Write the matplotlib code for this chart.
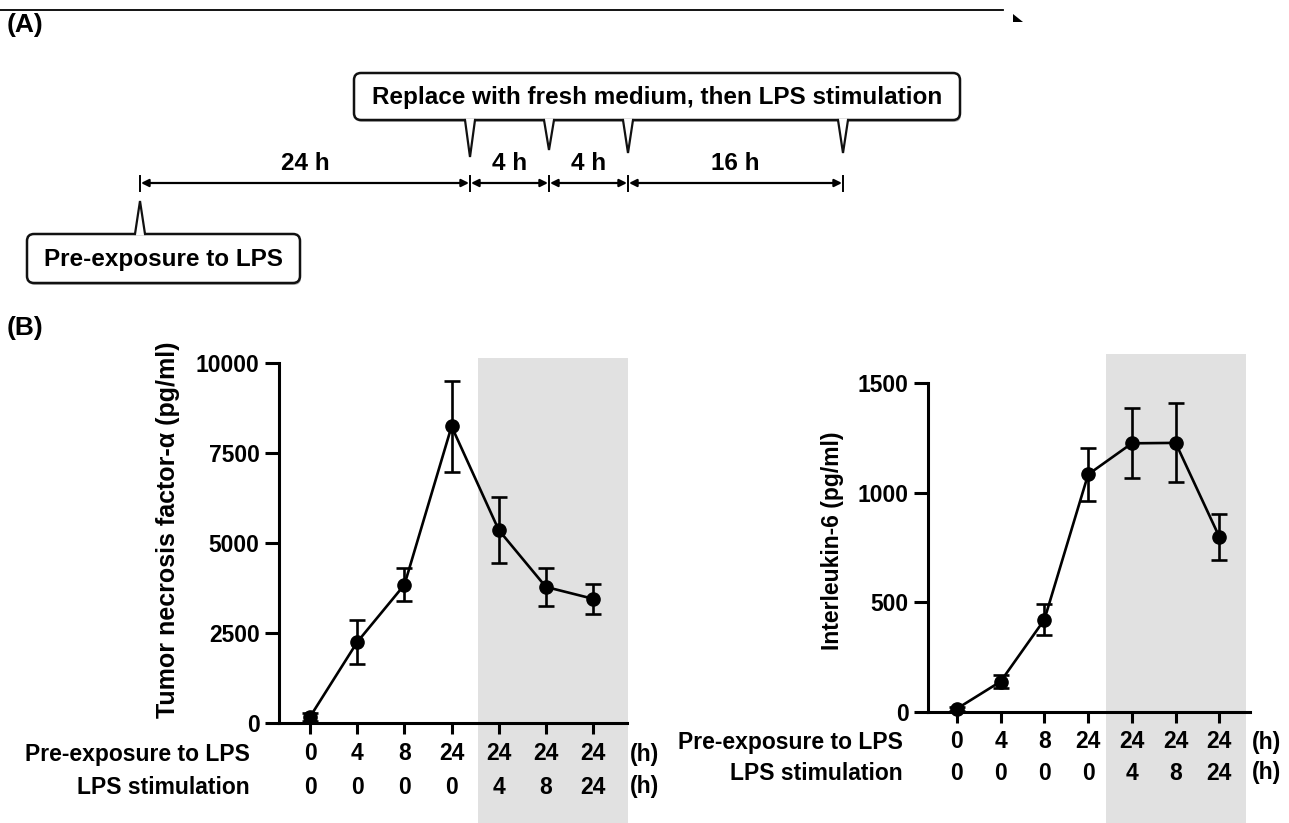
import numpy as np
import matplotlib
matplotlib.use("Agg")
import matplotlib.pyplot as plt
from matplotlib.patches import FancyBboxPatch, Polygon, Rectangle
from matplotlib.transforms import blended_transform_factory

plt.rcParams['font.family'] = ['Liberation Sans', 'DejaVu Sans']
plt.rcParams['font.weight'] = 'bold'

# ---------------- data ----------------
pre_exposure = ["0", "4", "8", "24", "24", "24", "24"]
lps_stim = ["0", "0", "0", "0", "4", "8", "24"]

tnf_mean = [175, 2250, 3840, 8240, 5360, 3780, 3450]
tnf_err = [110, 620, 460, 1270, 920, 520, 410]

il6_mean = [15, 139, 421, 1083, 1225, 1227, 798]
il6_err = [10, 30, 70, 120, 160, 180, 105]

tnf_ticks = [0, 2500, 5000, 7500, 10000]
il6_ticks = [0, 500, 1000, 1500]

durations = ["24 h", "4 h", "4 h", "16 h"]
row_labels = ["Pre-exposure to LPS", "LPS stimulation"]

W, H = 1289, 823
fig = plt.figure(figsize=(W / 100, H / 100), dpi=100)

FS_B = 16.5
FS_A = 17.5

# ---------------- panel A (pixel-coordinate overlay) ----------------
axA = fig.add_axes([0, 0, 1, 1])
axA.set_xlim(0, W)
axA.set_ylim(H, 0)
axA.axis('off')

axA.plot([0, 1003], [10, 10], color='black', lw=1.3)
axA.add_patch(Polygon([(1013, 14), (1023, 22), (1013, 22)], closed=True,
                      fc='black', ec='none'))
axA.text(7, 25, "(A)", fontsize=19, fontweight='bold', va='center', ha='left')
axA.text(7, 328, "(B)", fontsize=19, fontweight='bold', va='center', ha='left')


def callout(x0, y0, x1, y1, text, pointers, up=False):
    shadow = FancyBboxPatch((x0 + 1, y0 + 2), x1 - x0, y1 - y0,
                            boxstyle="round,pad=0,rounding_size=7",
                            fc='#bbbbbb', ec='none', zorder=2.5)
    axA.add_patch(shadow)
    box = FancyBboxPatch((x0, y0), x1 - x0, y1 - y0,
                         boxstyle="round,pad=0,rounding_size=7",
                         fc='white', ec='#111111', lw=1.8, zorder=3)
    axA.add_patch(box)
    axA.text((x0 + x1) / 2, (y0 + y1) / 2 + 1, text, fontsize=FS_A,
             fontweight='bold', ha='center', va='center', zorder=5)
    for px, tip in pointers:
        base = y0 if up else y1
        inner = base + (1.5 if up else -1.5)
        outer = base + (-2.5 if up else 2.5)
        axA.add_patch(Polygon([(px - 5, inner), (px + 5, inner), (px + 5, outer),
                               (px, tip), (px - 5, outer)], closed=True,
                              fc='white', ec='none', zorder=4))
        axA.plot([px - 5, px, px + 5], [base, tip, base], color='#111111',
                 lw=1.6, zorder=4, solid_joinstyle='miter')


callout(354, 73, 960, 120, "Replace with fresh medium, then LPS stimulation",
        [(470, 157), (549, 150), (628, 153), (843, 153)])
callout(27, 234, 300, 283, "Pre-exposure to LPS", [(140, 201)], up=True)

bounds = [140, 470, 549, 628, 843]
ty = 183
for b in bounds:
    axA.plot([b, b], [176, 191], color='black', lw=1.4)
for i, lab in enumerate(durations):
    a, b = bounds[i], bounds[i + 1]
    axA.annotate('', xy=(b - 1, ty), xytext=(a + 1, ty),
                 arrowprops=dict(arrowstyle='<|-|>', color='black', lw=1.6,
                                 mutation_scale=11, shrinkA=0, shrinkB=0))
    axA.text((a + b) / 2, 163, lab, fontsize=FS_A, fontweight='bold',
             ha='center', va='center')


# ---------------- panel B ----------------
def panel(rect, xlim, mean, err, ticks, ylabel, ylabel_fs, label_xy, shade,
          shade_top, rows_y, row_label_x, h_x):
    ax = fig.add_axes(rect)
    ax.set_facecolor('none')
    x = np.arange(len(mean))
    trb = blended_transform_factory(ax.transData, fig.transFigure)
    ax.add_patch(Rectangle((shade[0], 0), shade[1] - shade[0], shade_top,
                           transform=trb, fc='#e1e1e1', ec='none',
                           clip_on=False, zorder=0))
    ax.errorbar(x, mean, yerr=err, fmt='-o', color='black', lw=1.9, ms=9.5,
                capsize=5.5, capthick=1.9, elinewidth=1.9, clip_on=False,
                zorder=3)
    ax.set_xlim(*xlim)
    ax.set_ylim(ticks[0], ticks[-1])
    ax.set_yticks(ticks)
    ax.set_yticklabels([str(t) for t in ticks], fontsize=FS_B, fontweight='bold')
    ax.set_xticks(x)
    ax.set_xticklabels([])
    for s in ['top', 'right']:
        ax.spines[s].set_visible(False)
    for s in ['left', 'bottom']:
        ax.spines[s].set_linewidth(2.2)
    ax.tick_params(axis='y', direction='out', length=10, width=2.2, pad=4)
    ax.tick_params(axis='x', direction='out', length=8, width=2.2)
    ax.set_ylabel(ylabel, fontsize=ylabel_fs, fontweight='bold')
    ax.yaxis.set_label_coords(*label_xy)
    for ry, vals, rl in zip(rows_y, [pre_exposure, lps_stim], row_labels):
        for xi, v in zip(x, vals):
            ax.text(xi, ry, v, transform=trb, fontsize=FS_B, fontweight='bold',
                    ha='center', va='center', clip_on=False)
        fig.text(row_label_x, ry, rl, fontsize=FS_B, fontweight='bold',
                 ha='right', va='center')
        fig.text(h_x, ry, "(h)", fontsize=FS_B, fontweight='bold',
                 ha='left', va='center')
    return ax


panel([279 / W, 1 - 723 / H, 348 / W, 360 / H], (-0.66, 6.72),
      tnf_mean, tnf_err, tnf_ticks, "Tumor necrosis factor-α (pg/ml)", 18,
      (-0.285, 0.536), (3.55, 6.74), 1 - 358 / H,
      [1 - 754 / H, 1 - 787 / H], 250 / W, 630 / W)

panel([928 / W, 1 - 712 / H, 322 / W, 329 / H], (-0.66, 6.70),
      il6_mean, il6_err, il6_ticks, "Interleukin-6 (pg/ml)", 16.5,
      (-0.262, 0.52), (3.41, 6.61), 1 - 354 / H,
      [1 - 742 / H, 1 - 773 / H], 903 / W, 1252 / W)

fig.savefig("out.png", dpi=100)
